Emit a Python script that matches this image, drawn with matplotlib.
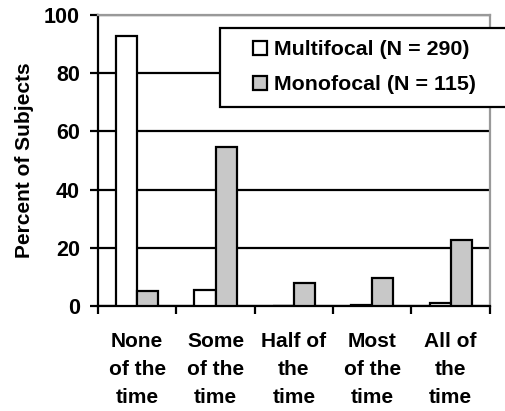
import numpy as np
import matplotlib.pyplot as plt
from matplotlib.patches import Rectangle

plt.rcParams['font.family'] = ['Liberation Sans', 'DejaVu Sans']
plt.rcParams['font.weight'] = 'bold'

categories = ["None\nof the\ntime", "Some\nof the\ntime", "Half of\nthe\ntime",
              "Most\nof the\ntime", "All of\nthe\ntime"]
multifocal = [92.8, 5.5, 0.0, 0.5, 1.0]
monofocal = [5.2, 54.8, 7.8, 9.7, 22.7]

x = np.arange(len(categories))
w = 0.27

fig = plt.figure(figsize=(5.05, 4.11), dpi=100)
ax = fig.add_axes([0.194, 0.2555, 0.776, 0.708])

ax.yaxis.grid(True, color='black', linewidth=1.6)
ax.set_axisbelow(True)

ax.bar(x - w / 2, multifocal, w, color='white', edgecolor='black', linewidth=1.6,
       label='Multifocal (N = 290)', zorder=3)
ax.bar(x + w / 2, monofocal, w, color='#c8c8c8', edgecolor='black', linewidth=1.6,
       label='Monofocal (N = 115)', zorder=3)

ax.set_xlim(-0.5, 4.5)
ax.set_ylim(0, 100)
ax.set_yticks([0, 20, 40, 60, 80, 100])
ax.set_xticks(x)
ax.set_xticklabels(categories, linespacing=1.6)
ax.set_xticks(np.arange(-0.5, 5, 1), minor=True)
ax.tick_params(axis='x', which='major', length=0, pad=19, labelsize=15)
ax.tick_params(axis='x', which='minor', length=6, width=1.6, direction='out')
ax.tick_params(axis='y', length=6, width=1.6, direction='out', labelsize=15.5, pad=7)
ax.set_ylabel('Percent of Subjects', fontsize=15, fontweight='bold', labelpad=7)

for s in ['left', 'bottom']:
    ax.spines[s].set_linewidth(1.6)
    ax.spines[s].set_color('black')
for s in ['top', 'right']:
    ax.spines[s].set_linewidth(1.6)
    ax.spines[s].set_color('#999999')

# legend box (Excel style, runs off the right edge)
box = Rectangle((0.311, 0.684), 0.75, 0.2715, transform=ax.transAxes,
                facecolor='white', edgecolor='black', linewidth=1.6,
                clip_on=False, zorder=4)
ax.add_patch(box)

leg = ax.legend(loc='upper left', bbox_to_anchor=(0.395, 0.913), fontsize=15.4,
                frameon=False, handlelength=0.67, handleheight=0.67,
                handletextpad=0.3, borderpad=0, labelspacing=0.75,
                borderaxespad=0)
leg.set_zorder(5)

fig.savefig('out.png', dpi=100)
